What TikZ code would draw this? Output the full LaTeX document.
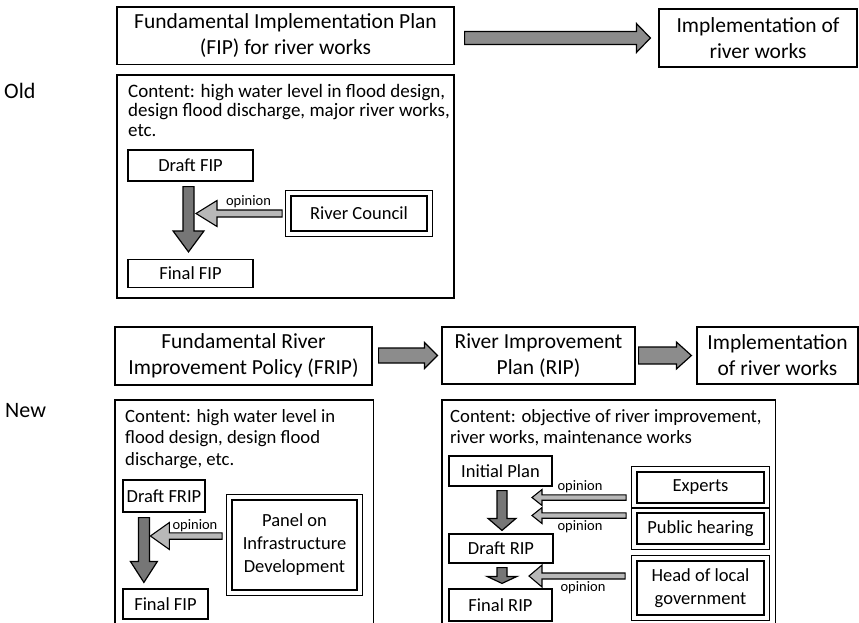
\documentclass[tikz,border=0pt]{standalone}
\usepackage{fontspec}
\setmainfont{Carlito}
\usetikzlibrary{calc}
\definecolor{bigfill}{HTML}{8C8C8C}
\definecolor{darkfill}{HTML}{767676}
\definecolor{lightfill}{HTML}{B8B8B8}
\newcommand\arrR[6]{\filldraw[#1] let \p1=(#2), \p2=(#3) in (\x1,\y1+#4) -- (\x2-#6,\y1+#4) -- (\x2-#6,\y1+#5) -- (\x2,\y1) -- (\x2-#6,\y1-#5) -- (\x2-#6,\y1-#4) -- (\x1,\y1-#4) -- cycle;}
\newcommand\arrL[6]{\filldraw[#1] let \p1=(#2), \p2=(#3) in (\x1,\y1+#4) -- (\x2+#6,\y1+#4) -- (\x2+#6,\y1+#5) -- (\x2,\y1) -- (\x2+#6,\y1-#5) -- (\x2+#6,\y1-#4) -- (\x1,\y1-#4) -- cycle;}
\newcommand\arrD[6]{\filldraw[#1] let \p1=(#2), \p2=(#3) in (\x1-#4,\y1) -- (\x1-#4,\y2+#6) -- (\x1-#5,\y2+#6) -- (\x1,\y2) -- (\x1+#5,\y2+#6) -- (\x1+#4,\y2+#6) -- (\x1+#4,\y1) -- cycle;}
\newcommand\outerframe[1]{\draw[outerline] ($(#1.south west)+(-4.5,4.5)$) rectangle ($(#1.north east)+(4.5,-4.5)$);}
\begin{document}
\begin{tikzpicture}[x=1pt,y=-1pt,
  line/.style={draw=black, line width=1.2pt},
  box/.style={line, align=center, inner sep=0pt, font=\fontsize{18.5}{23}\selectfont},
  title/.style={box, font=\fontsize{21.5}{26}\selectfont},
  dbox/.style={box, line width=1.7pt},
  outerline/.style={draw=black, line width=0.9pt},
  ctext/.style={align=left, inner sep=0pt, font=\fontsize{18.7}{21.7}\selectfont},
  lbl/.style={inner sep=1pt, font=\fontsize{14.5}{16}\selectfont},
  side/.style={inner sep=0pt, font=\fontsize{22}{26}\selectfont},
  bigarrow/.style={fill=bigfill, draw=black, line width=1.2pt, line join=miter},
  darrow/.style={fill=darkfill, draw=black, line width=1.2pt, line join=miter},
  larrow/.style={fill=lightfill, draw=black, line width=1.1pt, line join=miter}]
\useasboundingbox (0,0) rectangle (859,623);
% ---------- Old ----------
\node[side, anchor=west] (old) at (4,91) {Old};
\node[title, minimum width=337pt, minimum height=57.5pt] (fip) at (285.5,35.75) {Fundamental Implementation Plan\\(FIP) for river works};
\node[title, minimum width=198pt, minimum height=58pt] (impl1) at (758,38) {Implementation of\\river works};
\node[box, minimum width=337pt, minimum height=223pt] (oldc) at (285.5,186.5) {};
\node[ctext, anchor=north west, font=\fontsize{19}{19.5}\selectfont] (oldtxt) at (128,84) {Content: high water level in flood design,\\design flood discharge, major river works,\\etc.};
\node[box, minimum width=125pt, minimum height=31pt] (draftfip) at (190.5,165.5) {Draft FIP};
\node[box, minimum width=125pt, minimum height=28pt] (finalfip) at (190.5,273.5) {Final FIP};
\node[dbox, minimum width=136pt, minimum height=35pt] (council) at (359,213.5) {River Council};
\outerframe{council}
\arrR{bigarrow}{$(impl1.west -| fip.east)+(10,0)$}{$(impl1.west)+(-8,0)$}{6.5pt}{14.5pt}{14pt}
\arrD{darrow}{$(draftfip.south)+(-2,5)$}{$(finalfip.north)+(-2,-7)$}{5.5pt}{15.5pt}{21pt}
\arrL{larrow}{$(council.west)+(-8,0)$}{$(draftfip.south)+(5.5,0)$}{3.5pt}{13pt}{21pt}
\node[lbl, anchor=south] (op1) at (248.5,209) {opinion};
% ---------- New ----------
\node[side, anchor=west] (new) at (5,411) {New};
\node[title, minimum width=257pt, minimum height=58pt] (frip) at (243.5,356) {Fundamental River\\Improvement Policy (FRIP)};
\node[title, minimum width=193pt, minimum height=57pt] (rip) at (538.5,355.5) {River Improvement\\Plan (RIP)};
\node[title, minimum width=161pt, minimum height=57pt] (impl2) at (777.5,355.5) {Implementation\\of river works};
\arrR{bigarrow}{$(frip.east)+(6,-0.5)$}{$(rip.west)+(-4,0)$}{7.5pt}{13pt}{13pt}
\arrR{bigarrow}{$(rip.east)+(3,0)$}{$(impl2.west)+(-5,0)$}{8.5pt}{13.5pt}{15pt}
% FRIP content
\node[minimum width=258pt, minimum height=230pt, anchor=north west, inner sep=0pt] (frc) at (115,400) {};
\draw[line] (frc.south west) -- (frc.north west) -- (frc.north east) -- (frc.south east);
\node[ctext, anchor=north west] (fripTxt) at (125,409) {Content: high water level in\\flood design, design flood\\discharge, etc.};
\node[box, minimum width=82pt, minimum height=32pt] (draftfrip) at (164,496) {Draft FRIP};
\node[box, minimum width=85pt, minimum height=30pt] (finalfip2) at (165.5,604) {Final FIP};
\node[dbox, minimum width=125pt, minimum height=90pt] (panel) at (294.5,545) {Panel on\\Infrastructure\\Development};
\outerframe{panel}
\arrD{darrow}{$(draftfrip.south west)+(21.5,5)$}{$(finalfip2.north west)+(21.5,-6)$}{5.5pt}{13.5pt}{21pt}
\arrL{larrow}{$(panel.west)+(-9,-9)$}{$(draftfrip.south west)+(28,0)$}{3.2pt}{13.5pt}{19pt}
\node[lbl, anchor=south] (op2) at (195,533) {opinion};
% RIP content
\node[minimum width=333pt, minimum height=230pt, anchor=north west, inner sep=0pt] (ripc) at (442,400) {};
\draw[line] (ripc.south west) -- (ripc.north west) -- (ripc.north east) -- (ripc.south east);
\node[ctext, anchor=north west] (ripTxt) at (450,409) {Content: objective of river improvement,\\river works, maintenance works};
\node[box, minimum width=103pt, minimum height=30pt] (initial) at (500.5,471) {Initial Plan};
\node[box, minimum width=104pt, minimum height=29pt] (draftrip) at (501,548.5) {Draft RIP};
\node[box, minimum width=103pt, minimum height=32pt] (finalrip) at (500.5,605) {Final RIP};
\node[dbox, minimum width=127pt, minimum height=31pt] (experts) at (700.5,487.5) {Experts};
\outerframe{experts}
\node[dbox, minimum width=127pt, minimum height=31pt] (public) at (700.5,528.5) {Public hearing};
\outerframe{public}
\node[dbox, minimum width=127pt, minimum height=54pt] (head) at (700.5,588) {Head of local\\government};
\outerframe{head}
\arrD{darrow}{$(initial.south)+(1.5,4)$}{$(draftrip.north)+(1,-3)$}{5pt}{14pt}{12pt}
\arrD{darrow}{$(draftrip.south)+(1,4)$}{$(finalrip.north)+(1.5,-5)$}{5pt}{15pt}{7pt}
\arrL{larrow}{$(experts.west)+(-10,10)$}{$(initial.south)+(31.5,0)$}{2.7pt}{8pt}{10pt}
\arrL{larrow}{$(public.west)+(-10,-13)$}{$(initial.south)+(31.5,0)$}{2.7pt}{8pt}{10pt}
\arrL{larrow}{$(head.west)+(-11,-12)$}{$(draftrip.south)+(28,0)$}{3pt}{11pt}{13pt}
\node[lbl, anchor=south] (op3) at (580,494) {opinion};
\node[lbl, anchor=north] (op4) at (580,519) {opinion};
\node[lbl, anchor=north] (op5) at (583,580) {opinion};
\end{tikzpicture}
\end{document}
